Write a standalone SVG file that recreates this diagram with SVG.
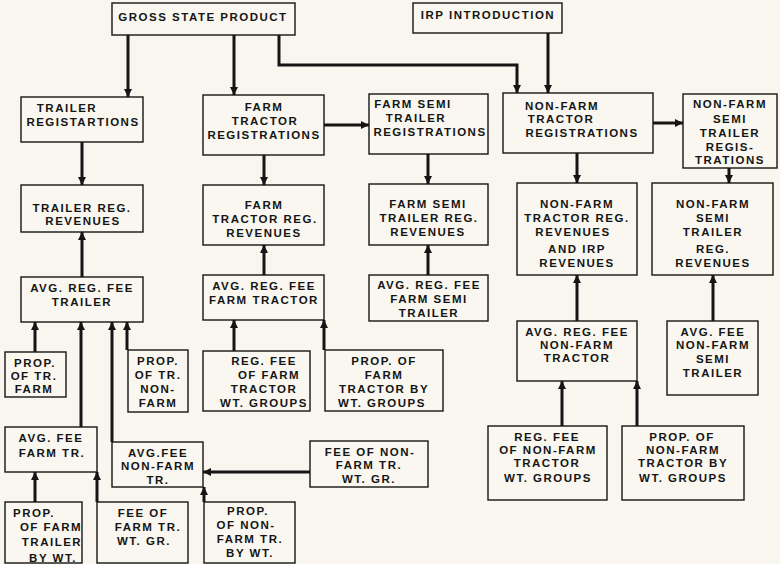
<svg xmlns="http://www.w3.org/2000/svg" width="780" height="564" viewBox="0 0 780 564">
<style>
.b{fill:#f9f7ef;stroke:#151515;stroke-width:1.4}
.t{font-family:"Liberation Sans",Arial,sans-serif;font-weight:bold;font-size:11.5px;letter-spacing:1.5px;fill:#151515;text-anchor:middle}
.c{fill:none;stroke:#151515;stroke-width:3;marker-end:url(#ah)}
</style>
<defs>
<marker id="ah" markerUnits="userSpaceOnUse" markerWidth="9" markerHeight="9" refX="8" refY="4.5" orient="auto">
<path d="M0,0.5 L8,4.5 L0,8.5 z" fill="#151515"/>
</marker>
</defs>
<rect width="780" height="564" fill="#f8f6ee"/>

<g id="connectors">
<path class="c" d="M128,35 V97"/>
<path class="c" d="M234,35 V95"/>
<path class="c" d="M279,35 V65 H517 V93"/>
<path class="c" d="M548,33 V93"/>
<path class="c" d="M82,142 V185"/>
<path class="c" d="M264,155 V185"/>
<path class="c" d="M324,125 H369"/>
<path class="c" d="M428,154 V184"/>
<path class="c" d="M577,153 V183"/>
<path class="c" d="M653,123 H683"/>
<path class="c" d="M729,168 V183"/>
<path class="c" d="M82,277 V232"/>
<path class="c" d="M264,275 V245"/>
<path class="c" d="M428,275 V245"/>
<path class="c" d="M577,321 V275"/>
<path class="c" d="M713,321 V275"/>
<path class="c" d="M35,352 V322"/>
<path class="c" d="M81,427 V322"/>
<path class="c" d="M112,442 V322"/>
<path class="c" d="M127,350 V322"/>
<path class="c" d="M234,351 V320"/>
<path class="c" d="M324,350 V320"/>
<path class="c" d="M35,502 V472"/>
<path class="c" d="M97,502 V472"/>
<path class="c" d="M204,502 V487"/>
<path class="c" d="M310,472 H203"/>
<path class="c" d="M562,426 V381"/>
<path class="c" d="M637,426 V381"/>
</g>

<g id="gsp"><rect class="b" x="112" y="3" width="183" height="32"/>
<text class="t" x="203" y="21">GROSS STATE PRODUCT</text></g>

<g id="irp"><rect class="b" x="413" y="3" width="149" height="30"/>
<text class="t" x="488" y="19">IRP INTRODUCTION</text></g>

<g id="trailer_reg"><rect class="b" x="21" y="97" width="122" height="45"/>
<text class="t"><tspan x="67" y="112">TRAILER</tspan><tspan x="83" y="126">REGISTARTIONS</tspan></text></g>

<g id="farm_tractor_reg"><rect class="b" x="203" y="95" width="121" height="60"/>
<text class="t"><tspan x="264" y="111">FARM</tspan><tspan x="265" y="125">TRACTOR</tspan><tspan x="264" y="139">REGISTRATIONS</tspan></text></g>

<g id="farm_semi_reg"><rect class="b" x="369" y="94" width="119" height="60"/>
<text class="t"><tspan x="413" y="108">FARM SEMI</tspan><tspan x="416" y="122">TRAILER</tspan><tspan x="430" y="136">REGISTRATIONS</tspan></text></g>

<g id="nonfarm_tractor_reg"><rect class="b" x="503" y="93" width="150" height="60"/>
<text class="t"><tspan x="562" y="110">NON-FARM</tspan><tspan x="561" y="123">TRACTOR</tspan><tspan x="582" y="137">REGISTRATIONS</tspan></text></g>

<g id="nonfarm_semi_reg"><rect class="b" x="683" y="94" width="94" height="74"/>
<text class="t"><tspan x="730" y="108">NON-FARM</tspan><tspan x="730" y="123">SEMI</tspan><tspan x="730" y="137">TRAILER</tspan><tspan x="730" y="151">REGIS-</tspan><tspan x="730" y="164">TRATIONS</tspan></text></g>

<g id="trailer_rev"><rect class="b" x="21" y="185" width="122" height="47"/>
<text class="t"><tspan x="82" y="212">TRAILER REG.</tspan><tspan x="83" y="225">REVENUES</tspan></text></g>

<g id="farm_tractor_rev"><rect class="b" x="203" y="185" width="121" height="60"/>
<text class="t"><tspan x="264" y="209">FARM</tspan><tspan x="265" y="223">TRACTOR REG.</tspan><tspan x="264" y="237">REVENUES</tspan></text></g>

<g id="farm_semi_rev"><rect class="b" x="369" y="184" width="119" height="61"/>
<text class="t"><tspan x="428" y="208">FARM SEMI</tspan><tspan x="429" y="222">TRAILER REG.</tspan><tspan x="428" y="236">REVENUES</tspan></text></g>

<g id="nonfarm_tractor_rev"><rect class="b" x="517" y="183" width="120" height="92"/>
<text class="t"><tspan x="577" y="208">NON-FARM</tspan><tspan x="577" y="222">TRACTOR REG.</tspan><tspan x="573" y="236">REVENUES</tspan><tspan x="577" y="253">AND IRP</tspan><tspan x="577" y="267">REVENUES</tspan></text></g>

<g id="nonfarm_semi_rev"><rect class="b" x="652" y="183" width="121" height="92"/>
<text class="t"><tspan x="713" y="208">NON-FARM</tspan><tspan x="713" y="222">SEMI</tspan><tspan x="713" y="236">TRAILER</tspan><tspan x="713" y="253">REG.</tspan><tspan x="713" y="267">REVENUES</tspan></text></g>

<g id="avg_trailer"><rect class="b" x="21" y="277" width="122" height="45"/>
<text class="t"><tspan x="82" y="292">AVG. REG. FEE</tspan><tspan x="82" y="306">TRAILER</tspan></text></g>

<g id="avg_farm_tractor"><rect class="b" x="203" y="275" width="121" height="45"/>
<text class="t"><tspan x="264" y="290">AVG. REG. FEE</tspan><tspan x="264" y="304">FARM TRACTOR</tspan></text></g>

<g id="avg_farm_semi"><rect class="b" x="369" y="275" width="119" height="46"/>
<text class="t"><tspan x="429" y="289">AVG. REG. FEE</tspan><tspan x="429" y="303">FARM SEMI</tspan><tspan x="429" y="317">TRAILER</tspan></text></g>

<g id="avg_nonfarm_tractor"><rect class="b" x="517" y="321" width="120" height="60"/>
<text class="t"><tspan x="577" y="336">AVG. REG. FEE</tspan><tspan x="577" y="349">NON-FARM</tspan><tspan x="577" y="362">TRACTOR</tspan></text></g>

<g id="avg_nonfarm_semi"><rect class="b" x="667" y="321" width="91" height="74"/>
<text class="t"><tspan x="713" y="336">AVG. FEE</tspan><tspan x="713" y="349">NON-FARM</tspan><tspan x="713" y="363">SEMI</tspan><tspan x="713" y="377">TRAILER</tspan></text></g>

<g id="prop_tr_farm"><rect class="b" x="5" y="352" width="61" height="45"/>
<text class="t"><tspan x="35" y="367">PROP.</tspan><tspan x="34" y="380">OF TR.</tspan><tspan x="34" y="393">FARM</tspan></text></g>

<g id="prop_tr_nonfarm"><rect class="b" x="128" y="350" width="60" height="62"/>
<text class="t"><tspan x="158" y="365">PROP.</tspan><tspan x="158" y="379">OF TR.</tspan><tspan x="158" y="393">NON-</tspan><tspan x="158" y="407">FARM</tspan></text></g>

<g id="regfee_farm_tractor"><rect class="b" x="203" y="351" width="107" height="60"/>
<text class="t"><tspan x="264" y="365">REG. FEE</tspan><tspan x="269" y="379">OF FARM</tspan><tspan x="264" y="393">TRACTOR</tspan><tspan x="264" y="407">WT. GROUPS</tspan></text></g>

<g id="prop_farm_tractor"><rect class="b" x="325" y="350" width="118" height="61"/>
<text class="t"><tspan x="384" y="365">PROP. OF</tspan><tspan x="384" y="379">FARM</tspan><tspan x="384" y="393">TRACTOR BY</tspan><tspan x="382" y="407">WT. GROUPS</tspan></text></g>

<g id="avg_fee_farm_tr"><rect class="b" x="5" y="427" width="92" height="45"/>
<text class="t"><tspan x="51" y="442">AVG. FEE</tspan><tspan x="52" y="457">FARM TR.</tspan></text></g>

<g id="avg_fee_nonfarm_tr"><rect class="b" x="112" y="442" width="91" height="45"/>
<text class="t"><tspan x="158" y="457">AVG.FEE</tspan><tspan x="158" y="470">NON-FARM</tspan><tspan x="158" y="484">TR.</tspan></text></g>

<g id="fee_nonfarm_wtgr"><rect class="b" x="310" y="441" width="118" height="46"/>
<text class="t"><tspan x="370" y="456">FEE OF NON-</tspan><tspan x="369" y="469">FARM TR.</tspan><tspan x="369" y="483">WT. GR.</tspan></text></g>

<g id="prop_farm_trailer"><rect class="b" x="5" y="502" width="77" height="61"/>
<text class="t"><tspan x="34" y="517">PROP.</tspan><tspan x="51" y="531">OF FARM</tspan><tspan x="52" y="546">TRAILER</tspan><tspan x="53" y="562">BY WT.</tspan></text></g>

<g id="fee_farm_tr_wtgr"><rect class="b" x="97" y="502" width="91" height="61"/>
<text class="t"><tspan x="143" y="517">FEE OF</tspan><tspan x="148" y="531">FARM TR.</tspan><tspan x="144" y="545">WT. GR.</tspan></text></g>

<g id="prop_nonfarm_tr_bywt"><rect class="b" x="204" y="502" width="91" height="61"/>
<text class="t"><tspan x="248" y="515">PROP.</tspan><tspan x="246" y="529">OF NON-</tspan><tspan x="250" y="543">FARM TR.</tspan><tspan x="250" y="557">BY WT.</tspan></text></g>

<g id="regfee_nonfarm_tractor_wt"><rect class="b" x="488" y="426" width="119" height="74"/>
<text class="t"><tspan x="547" y="441">REG. FEE</tspan><tspan x="548" y="454">OF NON-FARM</tspan><tspan x="547" y="467">TRACTOR</tspan><tspan x="548" y="482">WT. GROUPS</tspan></text></g>

<g id="prop_nonfarm_tractor_wt"><rect class="b" x="622" y="426" width="122" height="74"/>
<text class="t"><tspan x="682" y="441">PROP. OF</tspan><tspan x="683" y="454">NON-FARM</tspan><tspan x="683" y="467">TRACTOR BY</tspan><tspan x="683" y="482">WT. GROUPS</tspan></text></g>
</svg>
